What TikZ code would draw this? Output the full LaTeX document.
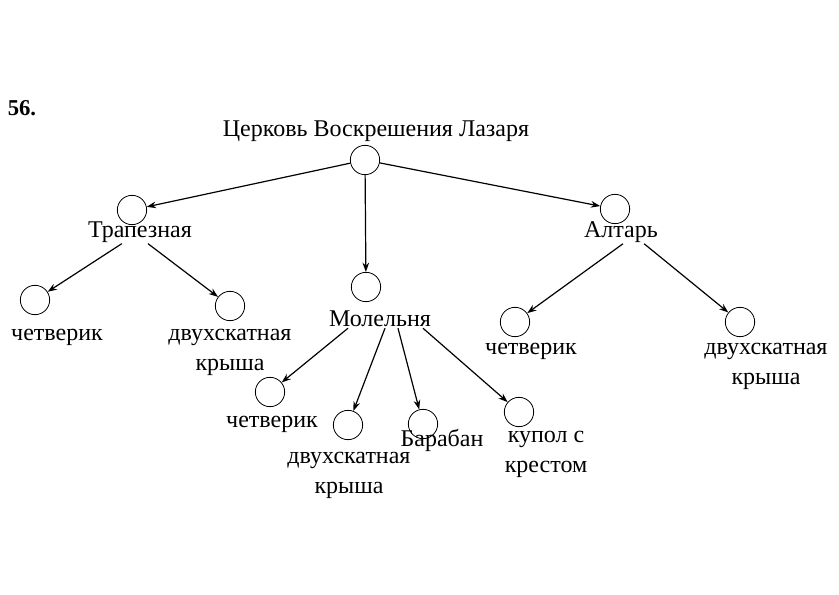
\documentclass[tikz,border=0pt]{standalone}
\usepackage{fontspec}
\setmainfont{Liberation Serif}
\usetikzlibrary{arrows.meta}

\tikzset{
  knot/.style={draw,circle,minimum size=22,inner sep=0pt,line width=0.6pt},
  word/.style={inner sep=0.75pt,font=\fontsize{18}{22.5}\selectfont,align=center},
  link/.style={line width=0.9pt,-{Stealth[length=7pt,width=5pt]}}
}

\begin{document}
\begin{tikzpicture}[x=0.75pt,y=0.75pt,yscale=-1,xscale=1]
\useasboundingbox (0,0) rectangle (839,595);
\node [inner sep=0.75pt,font=\bfseries\fontsize{17}{20}\selectfont] (num) at (22,108) {56.};
% root
\node [word] (churchtxt) at (376,131) {Церковь Воскрешения Лазаря};
\node [knot] (church) at (365,160) {};
% first level
\node [knot] (trap) at (132,210) {};
\node [word] (traptxt) at (140,232) {Трапезная};
\node [knot] (mol) at (366,287) {};
\node [word] (moltxt) at (380,319) {Молельня};
\node [knot] (alt) at (615,209) {};
\node [word] (alttxt) at (621,232) {Алтарь};
% Трапезная
\node [knot] (trapa) at (35,300) {};
\node [word] (trapatxt) at (57,337) {четверик};
\node [knot] (trapb) at (230,306) {};
\node [word] (trapbtxt) at (230,352) {двухскатная\\крыша};
% Алтарь
\node [knot] (alta) at (515,322) {};
\node [word] (altatxt) at (531,351) {четверик};
\node [knot] (altb) at (740,322) {};
\node [word] (altbtxt) at (766,366) {двухскатная\\крыша};
% Молельня
\node [knot] (mola) at (270,392) {};
\node [word] (molatxt) at (272,424) {четверик};
\node [knot] (molb) at (348,425) {};
\node [word] (molbtxt) at (349,475) {двухскатная\\крыша};
\node [knot] (molc) at (423,424) {};
\node [word] (molctxt) at (442,440) {Барабан};
\node [knot] (mold) at (519,412) {};
\node [word] (moldtxt) at (546,454) {купол с\\крестом};
% arrows
\draw [link] (church) -- (trap);
\draw [link] (church) -- (mol);
\draw [link] (church) -- (alt);
\draw [link] (traptxt.south west) ++(35,0) -- (trapa);
\draw [link] (traptxt.south) ++(8,0) -- (trapb);
\draw [link] (alttxt.south) ++(2,0) -- (alta);
\draw [link] (alttxt.south east) ++(-15,0) -- (altb);
\draw [link] (moltxt.south) ++(-32,0) -- (mola);
\draw [link] (moltxt.south) ++(5,0) -- (molb);
\draw [link] (moltxt.south) ++(18,0) -- (molc);
\draw [link] (moltxt.south) ++(43,0) -- (mold);
\end{tikzpicture}
\end{document}
